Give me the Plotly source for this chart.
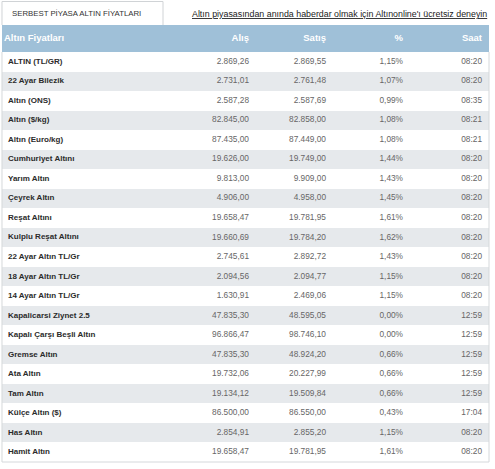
import plotly.graph_objects as go

# table data
names = [
    "ALTIN (TL/GR)", "22 Ayar Bilezik", "Altın (ONS)", "Altın ($/kg)", "Altın (Euro/kg)",
    "Cumhuriyet Altını", "Yarım Altın", "Çeyrek Altın", "Reşat Altını", "Kulplu Reşat Altını",
    "22 Ayar Altın TL/Gr", "18 Ayar Altın TL/Gr", "14 Ayar Altın TL/Gr", "Kapalicarsi Ziynet 2.5",
    "Kapalı Çarşı Beşli Altın", "Gremse Altın", "Ata Altın", "Tam Altın", "Külçe Altın ($)",
    "Has Altın", "Hamit Altın",
]
alis = [2869.26, 2731.01, 2587.28, 82845.00, 87435.00, 19626.00, 9813.00, 4906.00, 19658.47,
        19660.69, 2745.61, 2094.56, 1630.91, 47835.30, 96866.47, 47835.30, 19732.06, 19134.12,
        86500.00, 2854.91, 19658.47]
satis = [2869.55, 2761.48, 2587.69, 82858.00, 87449.00, 19749.00, 9909.00, 4958.00, 19781.95,
         19784.20, 2892.72, 2094.77, 2469.06, 48595.05, 98746.10, 48924.20, 20227.99, 19509.84,
         86550.00, 2855.20, 19781.95]
degisim = [1.15, 1.07, 0.99, 1.08, 1.08, 1.44, 1.43, 1.45, 1.61, 1.62, 1.43, 1.15, 1.15, 0.00,
           0.00, 0.66, 0.66, 0.66, 0.43, 1.15, 1.61]
saat = ["08:20", "08:20", "08:35", "08:21", "08:21", "08:20", "08:20", "08:20", "08:20", "08:20",
        "08:20", "08:20", "08:20", "12:59", "12:59", "12:59", "12:59", "12:59", "17:04", "08:20",
        "08:20"]
headers = ["Altın Fiyatları", "Alış", "Satış", "%", "Saat"]


def tr(v):
    # turkish number format: 1.234,56
    s = f"{v:,.2f}"
    return s.replace(",", "X").replace(".", ",").replace("X", ".")


W, H = 495, 469
FONT = "Liberation Sans"
HEAD_BLUE = "#9fc0d8"
rows = list(range(len(names)))
row_fill = ["#ffffff" if i % 2 == 0 else "#e6e9ec" for i in rows]

# x anchors of each column (pixels, x axis runs 0..W)
LEFT, RIGHT = 2, 489
col_x = [8, 249, 326, 403, 482]

fig = go.Figure()

# row backgrounds
fig.add_trace(go.Bar(y=rows, x=[RIGHT - LEFT] * len(rows), base=LEFT, orientation="h",
                     width=1, marker=dict(color=row_fill, line_width=0), hoverinfo="skip"))
# header band
fig.add_trace(go.Bar(y=[0], x=[RIGHT - LEFT], base=LEFT, orientation="h", width=1,
                     marker=dict(color=HEAD_BLUE, line_width=0), hoverinfo="skip", yaxis="y2"))

# header texts
fig.add_trace(go.Scatter(x=[4], y=[0], text=["<b>%s</b>" % headers[0]], mode="text",
                         textposition="middle right", yaxis="y2", hoverinfo="skip",
                         textfont=dict(family=FONT, size=9.5, color="white")))
fig.add_trace(go.Scatter(x=col_x[1:], y=[0] * 4, text=["<b>%s</b>" % h for h in headers[1:]],
                         mode="text", textposition="middle left", yaxis="y2", hoverinfo="skip",
                         textfont=dict(family=FONT, size=9.5, color="white")))

# row labels
fig.add_trace(go.Scatter(x=[col_x[0]] * len(rows), y=rows, text=["<b>%s</b>" % n for n in names],
                         mode="text", textposition="middle right", hoverinfo="skip",
                         textfont=dict(family=FONT, size=8, color="#2b2b2b")))
# value columns
cols = [[tr(v) for v in alis], [tr(v) for v in satis], [tr(v) + "%" for v in degisim], saat]
for cx, vals in zip(col_x[1:], cols):
    fig.add_trace(go.Scatter(x=[cx] * len(rows), y=rows, text=vals, mode="text",
                             textposition="middle left", hoverinfo="skip",
                             textfont=dict(family=FONT, size=8.3, color="#666666")))

# outer border of the table
fig.add_shape(type="path", xref="paper", yref="paper",
              path="M %f %f L %f %f L %f %f L %f %f" % (
                  LEFT / W, 1 - 52 / H, LEFT / W, 1 - 462 / H, RIGHT / W, 1 - 462 / H,
                  RIGHT / W, 1 - 52 / H),
              line=dict(color="#d5d8db", width=1))

# tab on top
fig.add_shape(type="path", xref="paper", yref="paper",
              path="M %f %f L %f %f L %f %f L %f %f" % (
                  LEFT / W, 1 - 25 / H, LEFT / W, 1 - 1.5 / H, 163 / W, 1 - 1.5 / H, 163 / W, 1 - 25 / H),
              line=dict(color="#d0d3d6", width=1), fillcolor="white")
fig.add_annotation(text="SERBEST PİYASA ALTIN FİYATLARI", xref="paper", yref="paper",
                   x=10 / W, y=1 - 14 / H, xanchor="left", yanchor="middle", showarrow=False,
                   font=dict(family=FONT, size=7.8, color="#333333"))
fig.add_annotation(text="<u>Altın piyasasından anında haberdar olmak için Altınonline'ı ücretsiz deneyin</u>",
                   xref="paper", yref="paper", x=489 / W, y=1 - 14 / H, xanchor="right",
                   yanchor="middle", showarrow=False,
                   font=dict(family=FONT, size=8.85, color="#222222"))

fig.update_layout(
    width=W, height=H,
    margin=dict(l=0, r=0, t=0, b=0),
    paper_bgcolor="white",
    plot_bgcolor="white",
    showlegend=False,
    bargap=0,
    xaxis=dict(range=[0, W], domain=[0, 1], visible=False, fixedrange=True),
    yaxis=dict(range=[len(rows) - 0.5, -0.5], domain=[1 - 462 / H, 1 - 52 / H],
               visible=False, fixedrange=True),
    yaxis2=dict(range=[0.5, -0.5], domain=[1 - 52 / H, 1 - 25 / H],
                visible=False, fixedrange=True),
)

fig.write_html("out.html", config={"displayModeBar": False},
               post_script="document.body.style.margin='0px';")
